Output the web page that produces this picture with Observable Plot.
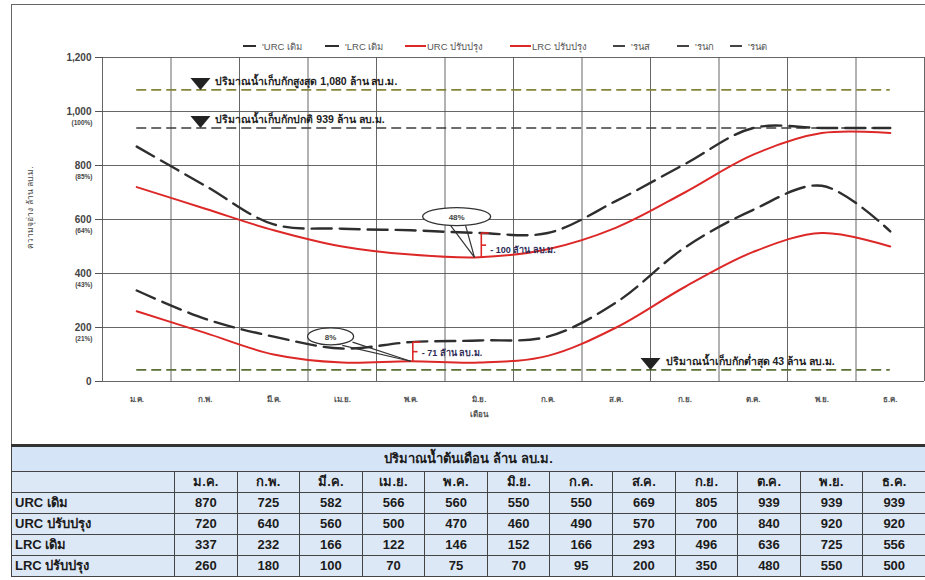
<!DOCTYPE html>
<html><head><meta charset="utf-8">
<script src="https://cdn.jsdelivr.net/npm/d3@7"></script>
<script src="https://cdn.jsdelivr.net/npm/@observablehq/plot@0.6"></script>
<style>
html,body{margin:0;padding:0;background:#fff;}
#wrap{position:relative;width:925px;height:580px;overflow:hidden;font-family:"Liberation Sans","Noto Sans",sans-serif;}
#frame{position:absolute;left:11px;top:4px;width:940px;height:441px;border:1.5px solid #666;box-sizing:border-box;}
#chart{position:absolute;left:0;top:0;}
#legend{position:absolute;top:39px;left:0;width:925px;height:14px;font-size:9.5px;color:#555;white-space:nowrap;}
#legend .item{position:absolute;top:0;display:flex;align-items:center;height:14px;}
#legend .sw{display:inline-block;height:0;border-top:2px solid #333;margin-right:6px;}
#tbl{position:absolute;left:11px;top:444px;width:914px;border-collapse:collapse;table-layout:fixed;border-top:3px solid #333;font-weight:bold;color:#1b1b1b;font-size:13px;}
#tbl td{border:1.2px solid #444;background:#dde8f6;height:20px;padding:0 3px;text-align:center;line-height:20px;overflow:hidden;white-space:nowrap;}
#tbl td.lab{text-align:left;}
#tbl tr.title td{background:#d5e4f6;height:24px;font-size:13px;}
</style></head>
<body><div id="wrap"><div id="frame"></div><div id="chart"></div><div id="legend"></div><table id="tbl"></table></div>
<script>
// ---- data ----
const months = ["ม.ค.","ก.พ.","มี.ค.","เม.ย.","พ.ค.","มิ.ย.","ก.ค.","ส.ค.","ก.ย.","ต.ค.","พ.ย.","ธ.ค."];
const seriesNames = ["URC เดิม","URC ปรับปรุง","LRC เดิม","LRC ปรับปรุง"];
const urcOld = [870,725,582,566,560,550,550,669,805,939,939,939];
const urcNew = [720,640,560,500,470,460,490,570,700,840,920,920];
const lrcOld = [337,232,166,122,146,152,166,293,496,636,725,556];
const lrcNew = [260,180,100,70,75,70,95,200,350,480,550,500];
const legendNames = ["'URC เดิม","'LRC เดิม","URC ปรับปรุง","LRC ปรับปรุง","'รนส","'รนก","'รนต"];
const yTicks = [0,200,400,600,800,1000,1200];
const pctTicks = [1000,800,600,400,200];
const pctLabels = ["(100%)","(85%)","(64%)","(43%)","(21%)"];
const levels = [1080,939,43];
const levelLabels = ["ปริมาณน้ำเก็บกักสูงสุด 1,080 ล้าน ลบ.ม.","ปริมาณน้ำเก็บกักปกติ 939 ล้าน ลบ.ม.","ปริมาณน้ำเก็บกักต่ำสุด 43 ล้าน ลบ.ม."];
const levelMarkX = [1.93,1.93,8.5];
const calloutLabels = ["48%","8%"];
const calloutX = [5.67,3.83];
const calloutY = [611,167];
const wedgeFromX = [5.58,5.80,4.0,4.15];
const wedgeFromY = [578,578,134,146];
const wedgeToX = [5.93,5.93,5.0,5.0];
const wedgeToY = [460,460,75,75];
const bracketX = [6.03,5.03];
const bracketLow = [460,75];
const bracketHigh = [550,146];
const bracketLabels = ["- 100 ล้าน ลบ.ม.","- 71 ล้าน ลบ.ม."];
const bracketLabelY = [488,104];
const yLabel = "ความจุอ่าง ล้าน ลบ.ม.";
const xLabel = "เดือน";
const tableTitle = "ปริมาณน้ำต้นเดือน ล้าน ลบ.ม.";

// ---- derived ----
const idx = months.map((m,i)=>i+1);
const bounds = idx.map(i=>i-0.5).concat([idx.length+0.5]);
const toRows = (arr)=>arr.map((v,i)=>({x:i+1,y:v}));
const RED = "#dd2828", DARK = "#2e2e2e";
const levelColors = ["#85853a","#3d3d3d","#5a6f34"];
const levelData = levels.map((v,i)=>({v,lab:levelLabels[i],mx:levelMarkX[i],c:levelColors[i]}));

const sym = (kind, aspect)=>({draw(ctx,size){
  const r = Math.sqrt(size/Math.PI);
  if(kind==="tri"){ctx.moveTo(-r,-0.6*r);ctx.lineTo(r,-0.6*r);ctx.lineTo(0,0.6*r);ctx.closePath();return;}
  const rx=r, ry=r/aspect, k=0.5523;
  ctx.moveTo(rx,0);
  ctx.bezierCurveTo(rx,ry*k,rx*k,ry,0,ry);
  ctx.bezierCurveTo(-rx*k,ry,-rx,ry*k,-rx,0);
  ctx.bezierCurveTo(-rx,-ry*k,-rx*k,-ry,0,-ry);
  ctx.bezierCurveTo(rx*k,-ry,rx,-ry*k,rx,0);
  ctx.closePath();
}});

const font = "'Liberation Sans','Noto Sans',sans-serif";
const chart = Plot.plot({
  width:925, height:444,
  marginLeft:102, marginRight:1, marginTop:57, marginBottom:63,
  style:{fontFamily:font, background:"transparent"},
  x:{type:"linear", domain:[0.5,12.5]},
  y:{domain:[0,1200]},
  marks:[
    Plot.gridY(yTicks,{stroke:"#555",strokeOpacity:1,strokeWidth:0.9}),
    Plot.ruleX(bounds,{y1:0,y2:1200,stroke:"#555",strokeWidth:0.9}),
    Plot.axisY(yTicks,{tickFormat:d3.format(","),tickSize:7,tickPadding:4,fontSize:10,fontWeight:"bold",fill:"#444",stroke:"#555"}),
    Plot.text(pctTicks,{y:d=>d,text:(d,i)=>pctLabels[i],frameAnchor:"left",dx:-10,dy:11,textAnchor:"end",fontSize:6.5,fontWeight:"bold",fill:"#444"}),
    Plot.text([yLabel],{y:644,frameAnchor:"left",dx:-72,rotate:-90,textAnchor:"middle",fontSize:8.5,fill:"#444"}),
    Plot.axisX(idx,{tickFormat:i=>months[i-1],tickSize:0,tickPadding:15,fontSize:8,fill:"#555",fontWeight:"bold"}),
    Plot.text([xLabel],{x:6,y:0,dy:33,fontSize:8,fill:"#555",fontWeight:"bold"}),
    Plot.ruleY(levelData,{y:"v",x1:1,x2:12,stroke:"c",strokeWidth:1.6,strokeDasharray:"10,5"}),
    Plot.line(toRows(urcOld),{x:"x",y:"y",curve:"catmull-rom",stroke:DARK,strokeWidth:2.4,strokeDasharray:"20,8"}),
    Plot.line(toRows(lrcOld),{x:"x",y:"y",curve:"catmull-rom",stroke:DARK,strokeWidth:2.4,strokeDasharray:"20,8"}),
    Plot.line(toRows(urcNew),{x:"x",y:"y",curve:"catmull-rom",stroke:RED,strokeWidth:2}),
    Plot.line(toRows(lrcNew),{x:"x",y:"y",curve:"catmull-rom",stroke:RED,strokeWidth:2}),
    Plot.dot(levelData,{x:"mx",y:"v",r:10,symbol:sym("tri"),fill:"#222",stroke:null,dy:-6}),
    Plot.text(levelData,{x:"mx",y:"v",text:"lab",dx:15,dy:-8,textAnchor:"start",fontSize:10.5,fontWeight:"bold",fill:"#222"}),
    Plot.link(wedgeFromX.map((x,i)=>i),{x1:i=>wedgeFromX[i],y1:i=>wedgeFromY[i],x2:i=>wedgeToX[i],y2:i=>wedgeToY[i],stroke:"#333",strokeWidth:1.2}),
    Plot.dot([calloutLabels[0]],{x:calloutX[0],y:calloutY[0],r:34,symbol:sym("ell",34/9),fill:"white",stroke:"#333",strokeWidth:1.3}),
    Plot.dot([calloutLabels[1]],{x:calloutX[1],y:calloutY[1],r:23,symbol:sym("ell",23/8.5),fill:"white",stroke:"#333",strokeWidth:1.3}),
    Plot.text(calloutLabels,{x:(d,i)=>calloutX[i],y:(d,i)=>calloutY[i],text:d=>d,dy:1,fontSize:8,fontWeight:"bold",fill:"#444"}),
    Plot.link(bracketX,{x1:d=>d,x2:d=>d,y1:(d,i)=>bracketLow[i],y2:(d,i)=>bracketHigh[i],stroke:RED,strokeWidth:1.6}),
    Plot.link(bracketX,{x1:d=>d,x2:d=>d+0.11,y1:(d,i)=>bracketHigh[i],y2:(d,i)=>bracketHigh[i],stroke:RED,strokeWidth:1.6}),
    Plot.link(bracketX,{x1:d=>d,x2:d=>d+0.07,y1:(d,i)=>(bracketHigh[i]+bracketLow[i])/2,y2:(d,i)=>(bracketHigh[i]+bracketLow[i])/2,stroke:RED,strokeWidth:1.6}),
    Plot.text(bracketLabels,{x:(d,i)=>bracketX[i],y:(d,i)=>bracketLabelY[i],text:d=>d,dx:9,textAnchor:"start",fontSize:9,fontWeight:"bold",fill:"#2d2b55"})
  ]
});
document.getElementById("chart").appendChild(chart);

// ---- legend (layout: left offsets of each entry) ----
const legendColors = [DARK,DARK,RED,RED,"#444","#444","#444"];
const legendWidths = [13,14,21,21,12,12,12];
const legendLeft = [243,325,405,510,613,677,730];
const lg = document.getElementById("legend");
legendNames.forEach((n,i)=>{
  const it = document.createElement("span"); it.className="item";
  it.style.left = legendLeft[i]+"px";
  const sw = document.createElement("span"); sw.className="sw";
  sw.style.width = legendWidths[i]+"px"; sw.style.borderTopColor = legendColors[i];
  if(i>=2 && i<=3){sw.style.marginRight="1px";}
  it.appendChild(sw);
  const tx = document.createElement("span"); tx.textContent = n; it.appendChild(tx);
  lg.appendChild(it);
});

// ---- table ----
const tbl = document.getElementById("tbl");
const cg = document.createElement("colgroup");
const c0 = document.createElement("col"); c0.style.width="163px"; cg.appendChild(c0);
months.forEach(()=>{const c=document.createElement("col"); c.style.width=((914-163)/12)+"px"; cg.appendChild(c);});
tbl.appendChild(cg);
const tr0 = tbl.insertRow(); tr0.className="title";
const t0 = tr0.insertCell(); t0.colSpan = 13; t0.textContent = tableTitle;
const tr1 = tbl.insertRow();
tr1.insertCell().textContent = "";
months.forEach(m=>{tr1.insertCell().textContent = m;});
[urcOld,urcNew,lrcOld,lrcNew].forEach((arr,k)=>{
  const tr = tbl.insertRow();
  const c = tr.insertCell(); c.className="lab"; c.textContent = seriesNames[k];
  arr.forEach(v=>{tr.insertCell().textContent = v;});
});
</script>
</body></html>
